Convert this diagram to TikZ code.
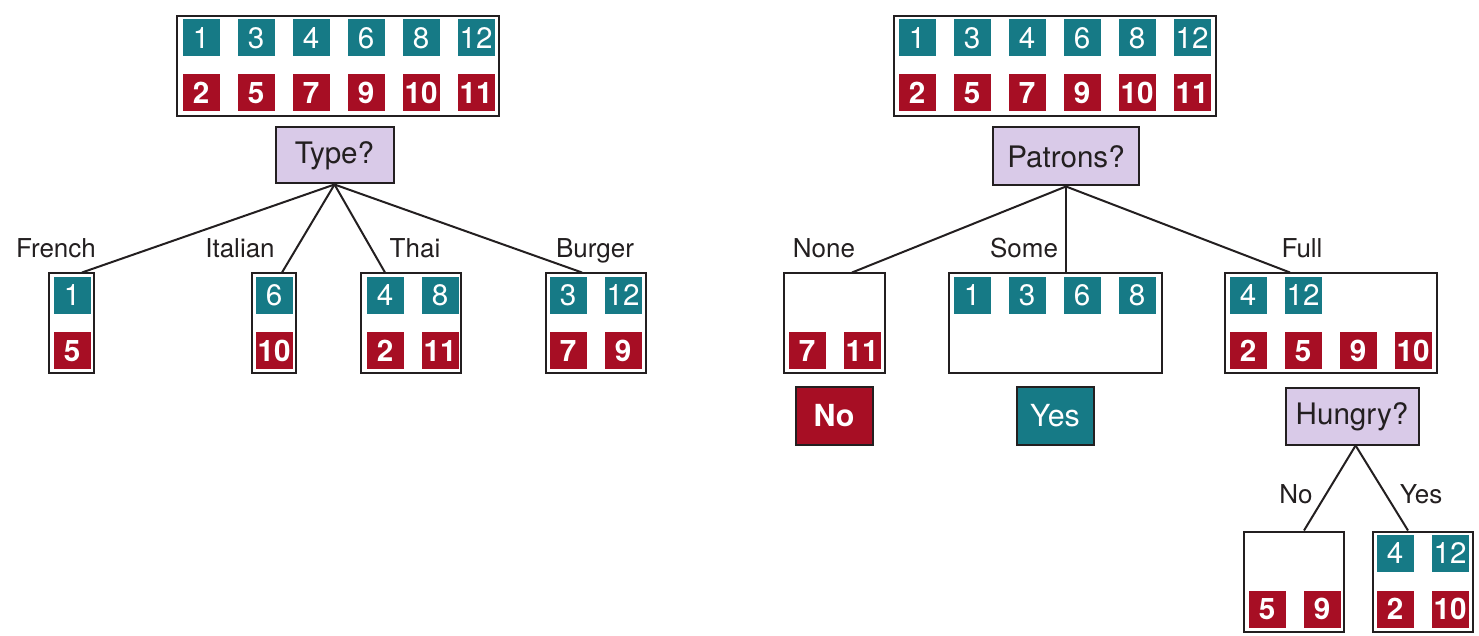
\documentclass[tikz,border=0pt]{standalone}
\usepackage{fontspec}
\setmainfont{TeX Gyre Heros}
\usetikzlibrary{positioning}

\definecolor{posteal}{RGB}{22,122,134}
\definecolor{negred}{RGB}{167,14,36}
\definecolor{qlilac}{RGB}{217,202,232}
\definecolor{inkgray}{RGB}{35,31,32}

\begin{document}
\begin{tikzpicture}[x=0.5pt,y=-0.5pt]
			\tikzstyle{every edge}=[draw,color=inkgray,line width=1pt]
			\tikzstyle{posex}=[fill=posteal,text=white,minimum size=18.5pt,inner sep=0pt,font=\fontsize{14.8}{17}\selectfont]
			\tikzstyle{negex}=[fill=negred,text=white,minimum size=18.5pt,inner sep=0pt,font=\fontsize{14.8}{17}\selectfont\bfseries]
			\tikzstyle{setbox}=[draw=inkgray,line width=1pt,inner sep=0pt,minimum height=50pt]
			\tikzstyle{attr}=[draw=inkgray,line width=1pt,fill=qlilac,text=inkgray,minimum height=28pt,font=\fontsize{14.8}{17}\selectfont]
			\tikzstyle{lbl}=[anchor=base,inner sep=0pt,text=inkgray,font=\fontsize{13}{15}\selectfont]

			\useasboundingbox (0,0) rectangle (1479,636);

			% (a) split on Type
			\node (allA) at (337.5,66.5) [setbox,minimum width=161pt] {};
			\node (a1) at (201,38) [posex] {1}; \node (a3) at (256,38) [posex] {3}; \node (a4) at (311,38) [posex] {4};
			\node (a6) at (366,38) [posex] {6}; \node (a8) at (421,38) [posex] {8}; \node (a12) at (476,38) [posex] {12};
			\node (a2) at (201,93) [negex] {2}; \node (a5) at (256,93) [negex] {5}; \node (a7) at (311,93) [negex] {7};
			\node (a9) at (366,93) [negex] {9}; \node (a10) at (421,93) [negex] {10}; \node (a11) at (476,93) [negex] {11};

			\node (type) at (334.5,155.5) [attr,minimum width=59pt] {Type?};

			\node (french) at (71,323.5) [setbox,minimum width=22.5pt] {};
			\node (italian) at (273.5,323.5) [setbox,minimum width=22pt] {};
			\node (thai) at (411,323.5) [setbox,minimum width=50pt] {};
			\node (burger) at (595.5,323.5) [setbox,minimum width=50pt] {};

			\node (fr1) at (72,295.5) [posex] {1}; \node (fr5) at (72,351) [negex] {5};
			\node (it6) at (274,295.5) [posex] {6}; \node (it10) at (274,351) [negex] {10};
			\node (th4) at (385,295.5) [posex] {4}; \node (th8) at (440,295.5) [posex] {8};
			\node (th2) at (385,351) [negex] {2}; \node (th11) at (440,351) [negex] {11};
			\node (bu3) at (568,295.5) [posex] {3}; \node (bu12) at (623,295.5) [posex] {12};
			\node (bu7) at (568,351) [negex] {7}; \node (bu9) at (623,351) [negex] {9};

			\path (type.south) edge ([xshift=5.5pt]french.north);
			\path (type.south) edge ([xshift=4.25pt]italian.north);
			\path (type.south) edge ([xshift=-13pt]thai.north);
			\path (type.south) edge ([xshift=-6.75pt]burger.north);

			\node (lfrench) at (56,258) [lbl] {French};
			\node (litalian) at (240,258) [lbl] {Italian};
			\node (lthai) at (415,258) [lbl] {Thai};
			\node (lburger) at (595,258) [lbl] {Burger};

			% (b) split on Patrons
			\node (allB) at (1054.5,66.5) [setbox,minimum width=161pt] {};
			\node (b1) at (917,38) [posex] {1}; \node (b3) at (972,38) [posex] {3}; \node (b4) at (1027,38) [posex] {4};
			\node (b6) at (1082,38) [posex] {6}; \node (b8) at (1137,38) [posex] {8}; \node (b12) at (1192,38) [posex] {12};
			\node (b2) at (917,93) [negex] {2}; \node (b5) at (972,93) [negex] {5}; \node (b7) at (1027,93) [negex] {7};
			\node (b9) at (1082,93) [negex] {9}; \node (b10) at (1137,93) [negex] {10}; \node (b11) at (1192,93) [negex] {11};

			\node (patrons) at (1066,156.5) [attr,minimum width=73pt,minimum height=29pt] {Patrons?};

			\node (none) at (834,323.5) [setbox,minimum width=50.5pt] {};
			\node (some) at (1055,323.5) [setbox,minimum width=106.5pt] {};
			\node (full) at (1330.5,323.5) [setbox,minimum width=106pt] {};

			\node (no7) at (807,351) [negex] {7}; \node (no11) at (862,351) [negex] {11};
			\node (so1) at (972,295.5) [posex] {1}; \node (so3) at (1027,295.5) [posex] {3};
			\node (so6) at (1082,295.5) [posex] {6}; \node (so8) at (1137,295.5) [posex] {8};
			\node (fu4) at (1248,295.5) [posex] {4}; \node (fu12) at (1303,295.5) [posex] {12};
			\node (fu2) at (1248,351) [negex] {2}; \node (fu5) at (1303,351) [negex] {5};
			\node (fu9) at (1358,351) [negex] {9}; \node (fu10) at (1413,351) [negex] {10};

			\path (patrons.south) edge ([xshift=9pt]none.north);
			\path (patrons.south) edge (patrons.south |- some.north);
			\path (patrons.south) edge ([xshift=-20.25pt]full.north);

			\node (lnone) at (824,258) [lbl] {None};
			\node (lsome) at (1024,258) [lbl] {Some};
			\node (lfull) at (1302,258) [lbl] {Full};

			\node (outno) at (834,416) [negex,draw=inkgray,line width=1pt,minimum width=38.5pt,minimum height=28.5pt,font=\fontsize{15.2}{17}\selectfont\bfseries] {No};
			\node (outyes) at (1055,416) [posex,draw=inkgray,line width=1pt,minimum width=38.5pt,minimum height=28.5pt,font=\fontsize{15.2}{17}\selectfont] {Yes};

			\node (hungry) at (1352,416.5) [attr,minimum width=66.5pt] {Hungry?};

			\node (hno) at (1294,581.5) [setbox,minimum width=50pt] {};
			\node (hyes) at (1423,581.5) [setbox,minimum width=50pt] {};

			\node (hn5) at (1267,609) [negex] {5}; \node (hn9) at (1322,609) [negex] {9};
			\node (hy4) at (1395,553.5) [posex] {4}; \node (hy12) at (1450,553.5) [posex] {12};
			\node (hy2) at (1395,609) [negex] {2}; \node (hy10) at (1450,609) [negex] {10};

			\path ([xshift=1.8pt]hungry.south) edge ([xshift=5pt]hno.north);
			\path ([xshift=1.8pt]hungry.south) edge ([xshift=-7.5pt]hyes.north);

			\node (lhno) at (1296,503) [lbl] {No};
			\node (lhyes) at (1421,503) [lbl] {Yes};
		\end{tikzpicture}
\end{document}
